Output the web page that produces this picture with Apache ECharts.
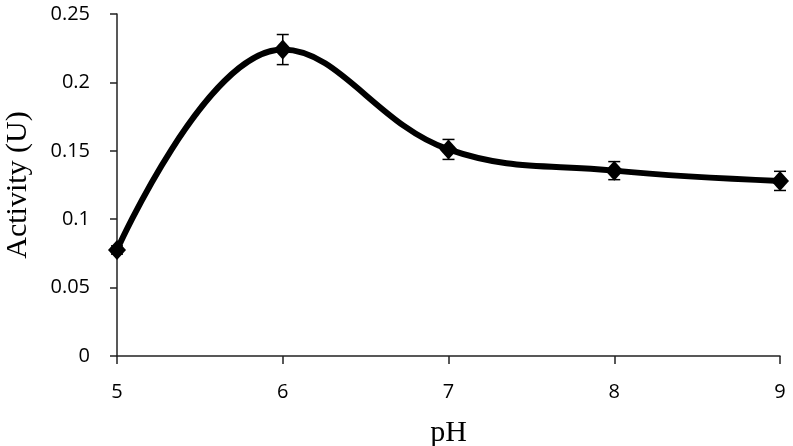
<!DOCTYPE html>
<html>
<head>
<meta charset="utf-8">
<title>Activity vs pH</title>
<script src="https://cdn.jsdelivr.net/npm/echarts@6/dist/echarts.min.js"></script>
<style>
  html, body { margin: 0; padding: 0; background: #fff; }
  #chart { width: 793px; height: 446px; }
</style>
</head>
<body>
<div id="chart"></div>
<script>
// values
var phValues = [5, 6, 7, 8, 9];
var activity = [0.0775, 0.224, 0.151, 0.1355, 0.128];
var errors = [0.003, 0.011, 0.0073, 0.0066, 0.007];

var points = phValues.map(function (x, i) { return [x, activity[i]]; });
var bars = phValues.map(function (x, i) { return [x, activity[i] - errors[i], activity[i] + errors[i]]; });

var chart = echarts.init(document.getElementById('chart'));

chart.setOption({
  animation: false,
  grid: { left: 117, right: 13, top: 14, bottom: 90, containLabel: false, outerBoundsMode: 'none' },
  xAxis: {
    type: 'value',
    min: 5, max: 9, interval: 1,
    name: 'pH',
    nameLocation: 'middle',
    nameGap: 62,
    nameTextStyle: { fontFamily: 'Liberation Serif', fontSize: 30, color: '#000' },
    axisLine: { lineStyle: { color: '#222', width: 1.5 } },
    axisTick: { show: true, length: 8, lineStyle: { color: '#222', width: 1.5 } },
    axisLabel: { fontFamily: 'Open Sans', fontSize: 20, color: '#000', margin: 26 },
    splitLine: { show: false }
  },
  yAxis: {
    type: 'value',
    min: 0, max: 0.25, interval: 0.05,
    name: 'Activity (U)',
    nameLocation: 'middle',
    nameRotate: 90,
    nameGap: 84,
    nameTextStyle: { fontFamily: 'Liberation Serif', fontSize: 30, color: '#000' },
    axisLine: { show: true, lineStyle: { color: '#222', width: 1.5 } },
    axisTick: { show: true, length: 7, lineStyle: { color: '#222', width: 1.5 } },
    axisLabel: { fontFamily: 'Open Sans', fontSize: 20, color: '#000', margin: 27 },
    splitLine: { show: false }
  },
  series: [
    {
      type: 'line',
      data: points,
      smooth: 0.4,
      symbol: 'diamond',
      symbolSize: [18, 20],
      lineStyle: { color: '#000', width: 6 },
      itemStyle: { color: '#000' },
      z: 2
    },
    {
      type: 'custom',
      data: bars,
      z: 3,
      renderItem: function (params, api) {
        var x = api.value(0);
        var lo = api.coord([x, api.value(1)]);
        var hi = api.coord([x, api.value(2)]);
        var cap = 6;
        var style = { stroke: '#000', lineWidth: 1.5 };
        return {
          type: 'group',
          children: [
            { type: 'line', shape: { x1: lo[0], y1: lo[1], x2: hi[0], y2: hi[1] }, style: style },
            { type: 'line', shape: { x1: lo[0] - cap, y1: lo[1], x2: lo[0] + cap, y2: lo[1] }, style: style },
            { type: 'line', shape: { x1: hi[0] - cap, y1: hi[1], x2: hi[0] + cap, y2: hi[1] }, style: style }
          ]
        };
      }
    }
  ]
});
</script>
</body>
</html>
